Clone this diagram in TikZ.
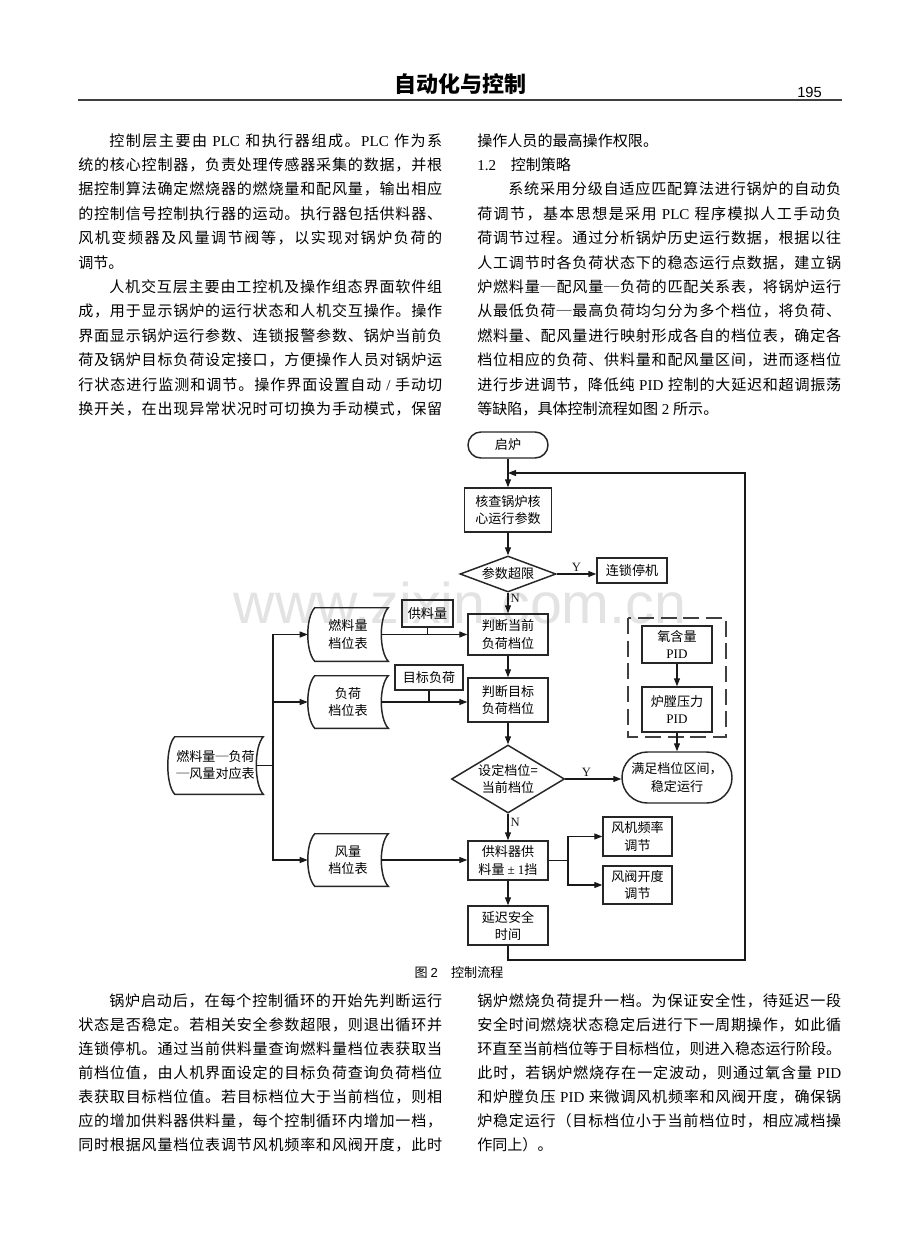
\documentclass[tikz,border=0pt]{standalone}
\usepackage{fontspec}
\setmainfont{Noto Sans CJK SC}
\newfontfamily\lat{Liberation Serif}
\newfontfamily\latsans{Liberation Sans}
\usetikzlibrary{arrows.meta,shapes.geometric,calc}
\newdimen\pxu \pxu=0.75pt
\def\spreadit#1{\spreadA#1\relax}
\def\spreadA#1{{#1}\spreadB}
\def\spreadB#1{\ifx\relax#1\else\hskip0pt plus 1fil{#1}\expandafter\spreadB\fi}
\newcommand\fcf{\fontsize{9.8pt}{12.8pt}\selectfont}
\newcommand\bodyf{\fontsize{11.3pt}{14pt}\selectfont}
\newcommand\jline[4]{\node[bodyj] (#1) at (#2,#3+6) {\hbox to 364\pxu{\spreadit{#4}}};}
\newcommand\iline[4]{\node[bodyj] (#1) at (#2+31,#3+6) {\hbox to 333\pxu{\spreadit{#4}}};}
\newcommand\pline[4]{\node[bodyj] (#1) at (#2,#3+6) {#4};}
\newcommand\sdout[1]{%
 \draw[sdl] ($(#1.north west)+(7,0)$) -- (#1.north east)
   .. controls ($(#1.north east)+(-9.3,10)$) and ($(#1.south east)+(-9.3,-10)$) .. (#1.south east)
   -- ($(#1.south west)+(7,0)$)
   .. controls ($(#1.south west)+(-2.3,-10)$) and ($(#1.north west)+(-2.3,10)$) .. cycle;}
\tikzset{
 sz/.style 2 args={minimum width=#1*0.75pt, minimum height=#2*0.75pt},
 bx/.style={draw=black!85, line width=1.1pt, inner sep=0pt, align=center, font=\fcf},
 term/.style={draw=black!85, line width=1.1pt, inner sep=0pt, align=center, font=\fcf},
 dia/.style={diamond, draw=black!85, line width=1.1pt, inner sep=0pt, align=center, font=\fcf},
 sd/.style={inner sep=0pt, align=center, font=\fcf},
 sdl/.style={draw=black!85, line width=1.1pt},
 ln/.style={line width=0.8pt, black!90},
 arr/.style={ln, -{Triangle[length=6pt,width=4.5pt]}},
 yn/.style={font=\lat\fontsize{9.5pt}{11pt}\selectfont, inner sep=0pt},
 dbox/.style={draw=black!75, line width=1.1pt, dash pattern=on 12pt off 5pt},
 bodyj/.style={anchor=base west, inner sep=0pt, font=\bodyf}
}
\begin{document}
\begin{tikzpicture}[x=0.75pt,y=-0.75pt]
\useasboundingbox (0,0) rectangle (920,1249);
\fill[white] (0,0) rectangle (920,1249);
% header
\node[font=\bfseries\fontsize{16.5pt}{18pt}\selectfont, inner sep=0pt] (hdr) at (460,84) {自动化与控制};
\node[font=\latsans\fontsize{11pt}{12pt}\selectfont, inner sep=0pt, anchor=base east] (pg) at (822,97) {195};
\draw[line width=1.1pt, black!75] (78,100) -- (842,100);
% watermark
\node[anchor=base, font=\latsans\fontsize{43pt}{43pt}\selectfont, text=black!11, inner sep=0pt] (wm) at (460,623) {www.zixin.com.cn};
% left column top
\iline{a1}{78}{140}{控制层主要由{\lat\ PLC\ }和执行器组成。{\lat PLC\ }作为系}
\jline{a2}{78}{164.4}{统的核心控制器，负责处理传感器采集的数据，并根}
\jline{a3}{78}{188.8}{据控制算法确定燃烧器的燃烧量和配风量，输出相应}
\jline{a4}{78}{213.2}{的控制信号控制执行器的运动。执行器包括供料器、}
\jline{a5}{78}{237.6}{风机变频器及风量调节阀等，以实现对锅炉负荷的}
\pline{a6}{78}{262}{调节。}
\iline{a7}{78}{286.4}{人机交互层主要由工控机及操作组态界面软件组}
\jline{a8}{78}{310.8}{成，用于显示锅炉的运行状态和人机交互操作。操作}
\jline{a9}{78}{335.2}{界面显示锅炉运行参数、连锁报警参数、锅炉当前负}
\jline{a10}{78}{359.6}{荷及锅炉目标负荷设定接口，方便操作人员对锅炉运}
\jline{a11}{78}{384}{行状态进行监测和调节。操作界面设置自动{\lat\ /\ }手动切}
\jline{a12}{78}{408.4}{换开关，在出现异常状况时可切换为手动模式，保留}
% right column top
\pline{b1}{477}{140}{操作人员的最高操作权限。}
\pline{b2}{477}{164.4}{{\lat 1.2}\hspace{11pt}控制策略}
\iline{b3}{477}{188.8}{系统采用分级自适应匹配算法进行锅炉的自动负}
\jline{b4}{477}{213.2}{荷调节，基本思想是采用{\lat\ PLC\ }程序模拟人工手动负}
\jline{b5}{477}{237.6}{荷调节过程。通过分析锅炉历史运行数据，根据以往}
\jline{b6}{477}{262}{人工调节时各负荷状态下的稳态运行点数据，建立锅}
\jline{b7}{477}{286.4}{炉燃料量─配风量─负荷的匹配关系表，将锅炉运行}
\jline{b8}{477}{310.8}{从最低负荷─最高负荷均匀分为多个档位，将负荷、}
\jline{b9}{477}{335.2}{燃料量、配风量进行映射形成各自的档位表，确定各}
\jline{b10}{477}{359.6}{档位相应的负荷、供料量和配风量区间，进而逐档位}
\jline{b11}{477}{384}{进行步进调节，降低纯{\lat\ PID\ }控制的大延迟和超调振荡}
\pline{b12}{477}{408.4}{等缺陷，具体控制流程如图{\lat\ 2\ }所示。}
% bottom left
\iline{c1}{78}{1000}{锅炉启动后，在每个控制循环的开始先判断运行}
\jline{c2}{78}{1024}{状态是否稳定。若相关安全参数超限，则退出循环并}
\jline{c3}{78}{1048}{连锁停机。通过当前供料量查询燃料量档位表获取当}
\jline{c4}{78}{1072}{前档位值，由人机界面设定的目标负荷查询负荷档位}
\jline{c5}{78}{1096}{表获取目标档位值。若目标档位大于当前档位，则相}
\jline{c6}{78}{1120}{应的增加供料器供料量，每个控制循环内增加一档，}
\jline{c7}{78}{1144}{同时根据风量档位表调节风机频率和风阀开度，此时}
% bottom right
\jline{d1t}{477}{1000}{锅炉燃烧负荷提升一档。为保证安全性，待延迟一段}
\jline{d2t}{477}{1024}{安全时间燃烧状态稳定后进行下一周期操作，如此循}
\jline{d3t}{477}{1048}{环直至当前档位等于目标档位，则进入稳态运行阶段。}
\jline{d4t}{477}{1072}{此时，若锅炉燃烧存在一定波动，则通过氧含量{\lat\ PID}}
\jline{d5t}{477}{1096}{和炉膛负压{\lat\ PID\ }来微调风机频率和风阀开度，确保锅}
\jline{d6t}{477}{1120}{炉稳定运行（目标档位小于当前档位时，相应减档操}
\pline{d7t}{477}{1144}{作同上）。}
% caption
\node[font=\fontsize{9.8pt}{12pt}\selectfont, inner sep=0pt] (cap) at (459,973) {图 {\latsans 2}\hspace{10pt}控制流程};
% flowchart nodes
\node[term, sz={80}{26}, rounded corners=9.7pt] (start) at (508,445) {启炉};
\node[bx, sz={87}{44}] (check) at (508,510) {核查锅炉核\\心运行参数};
\node[dia, sz={96}{36}, aspect=2.6] (d1) at (508,574) {参数超限};
\node[bx, sz={70}{25}] (stop) at (632,570.5) {连锁停机};
\node[bx, sz={80}{41}] (cur) at (508,634.5) {判断当前\\负荷档位};
\node[bx, sz={80}{44}] (tgt) at (508,700) {判断目标\\负荷档位};
\node[dia, sz={113}{68}, aspect=1.66] (d2) at (508,779) {设定档位=\\当前档位};
\node[bx, sz={80}{39}] (feed) at (508,860.5) {供料器供\\料量 {\lat ± 1}挡};
\node[bx, sz={80}{39}] (delay) at (508,925.5) {延迟安全\\时间};
\node[term, sz={110}{51}, rounded corners=19pt] (steady) at (677,777.5) {满足档位区间，\\稳定运行};
\node[bx, sz={70}{37}] (o2) at (677,644.5) {氧含量\\{\lat PID}};
\node[bx, sz={70}{45}] (fp) at (677,709.5) {炉膛压力\\{\lat PID}};
\draw[dbox] (628,618) rectangle (726,737);
\node[bx, sz={69}{39}] (fan) at (637.5,836.5) {风机频率\\调节};
\node[bx, sz={69}{38}] (valve) at (637.5,885) {风阀开度\\调节};
\node[bx, sz={51}{27}] (supply) at (427.5,613.5) {供料量};
\node[bx, sz={68}{25}] (tload) at (429,677.5) {目标负荷};
\node[sd, sz={80}{53}] (fuelT) at (348,634.5) {燃料量\\档位表};
\node[sd, sz={80}{52}] (loadT) at (348,702) {负荷\\档位表};
\node[sd, sz={80}{52}] (airT) at (348,860) {风量\\档位表};
\node[sd, sz={95}{57}] (map) at (215.5,765.5) {燃料量─负荷\\─风量对应表};
\sdout{fuelT}
\sdout{loadT}
\sdout{airT}
\sdout{map}
% connectors
\coordinate (merge) at (508,473);
\coordinate (lr) at (745,960);
\coordinate (br) at (568,860.5);
\coordinate (tr) at (273,765.5);
\draw[arr] (start.south) -- (check.north);
\draw[arr] (delay.south) |- (lr) |- (merge);
\draw[arr] (check.south) -- (d1.north);
\draw[arr] (d1.east) -- (stop.west |- d1.east) node[yn, midway, above=1.5pt] {Y};
\draw[arr] (d1.south) -- (cur.north) node[yn, pos=0.28, right=1.5pt] {N};
\draw[arr] ($(fuelT.east)+(-7,0)$) -- (cur.west);
\draw[ln] (supply.south) -- (supply.south |- cur.west);
\draw[arr] (cur.south) -- (tgt.north);
\draw[arr] ($(loadT.east)+(-7,0)$) -- (tgt.west |- loadT.east);
\draw[ln] (tload.south) -- (tload.south |- loadT.east);
\draw[arr] (tgt.south) -- (d2.north);
\draw[arr] (d2.east) -- (steady.west |- d2.east) node[yn, pos=0.38, above=1.5pt] {Y};
\draw[arr] (d2.south) -- (feed.north) node[yn, pos=0.32, right=1.5pt] {N};
\draw[arr] ($(airT.east)+(-7,0)$) -- (feed.west |- airT.east);
\draw[arr] (feed.south) -- (delay.north);
\draw[ln] (feed.east) -- (br);
\draw[arr] (br) |- (fan.west);
\draw[arr] (br) |- (valve.west);
\draw[arr] (o2.south) -- (fp.north);
\draw[arr] (fp.south) -- (steady.north);
\draw[ln] ($(map.east)+(-7,0)$) -- (tr);
\draw[arr] (tr) |- (fuelT.west);
\draw[arr] (tr) |- (loadT.west);
\draw[arr] (tr) |- (airT.west);
\end{tikzpicture}
\end{document}
